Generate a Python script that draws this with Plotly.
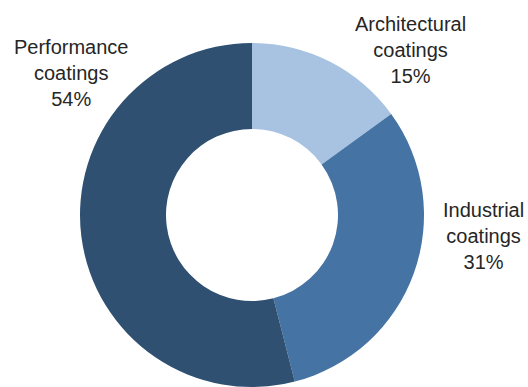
import plotly.graph_objects as go

# Coatings segments and their share of sales
segments = ["Architectural coatings", "Industrial coatings", "Performance coatings"]
shares = [15, 31, 54]
colors = ["#A8C3E1", "#4573A3", "#2F5071"]

W, H = 528, 387

fig = go.Figure(
    go.Pie(
        labels=segments,
        values=shares,
        hole=0.5,
        sort=False,
        direction="clockwise",
        rotation=0,
        marker=dict(colors=colors, line=dict(width=0)),
        textinfo="none",
        hoverinfo="label+percent",
        domain=dict(x=[80 / W, 424 / W], y=[0, 344 / H]),
        showlegend=False,
    )
)

# Outside labels: segment name split over two lines, then its share
label_pos = {
    "Architectural coatings": (410, 50),
    "Industrial coatings": (483, 236),
    "Performance coatings": (71, 73),
}
for name, val in zip(segments, shares):
    px, py = label_pos[name]
    first, second = name.split(" ")
    fig.add_annotation(
        x=px / W,
        y=1 - py / H,
        xref="paper",
        yref="paper",
        text=f"{first}<br>{second}<br>{val}%",
        showarrow=False,
        xanchor="center",
        yanchor="middle",
        align="center",
        font=dict(family="Liberation Sans, Arial, sans-serif", size=20, color="#262626"),
    )

fig.update_layout(
    width=W,
    height=H,
    margin=dict(l=0, r=0, t=0, b=0),
    paper_bgcolor="white",
    plot_bgcolor="white",
)

fig.write_html("out.html")
